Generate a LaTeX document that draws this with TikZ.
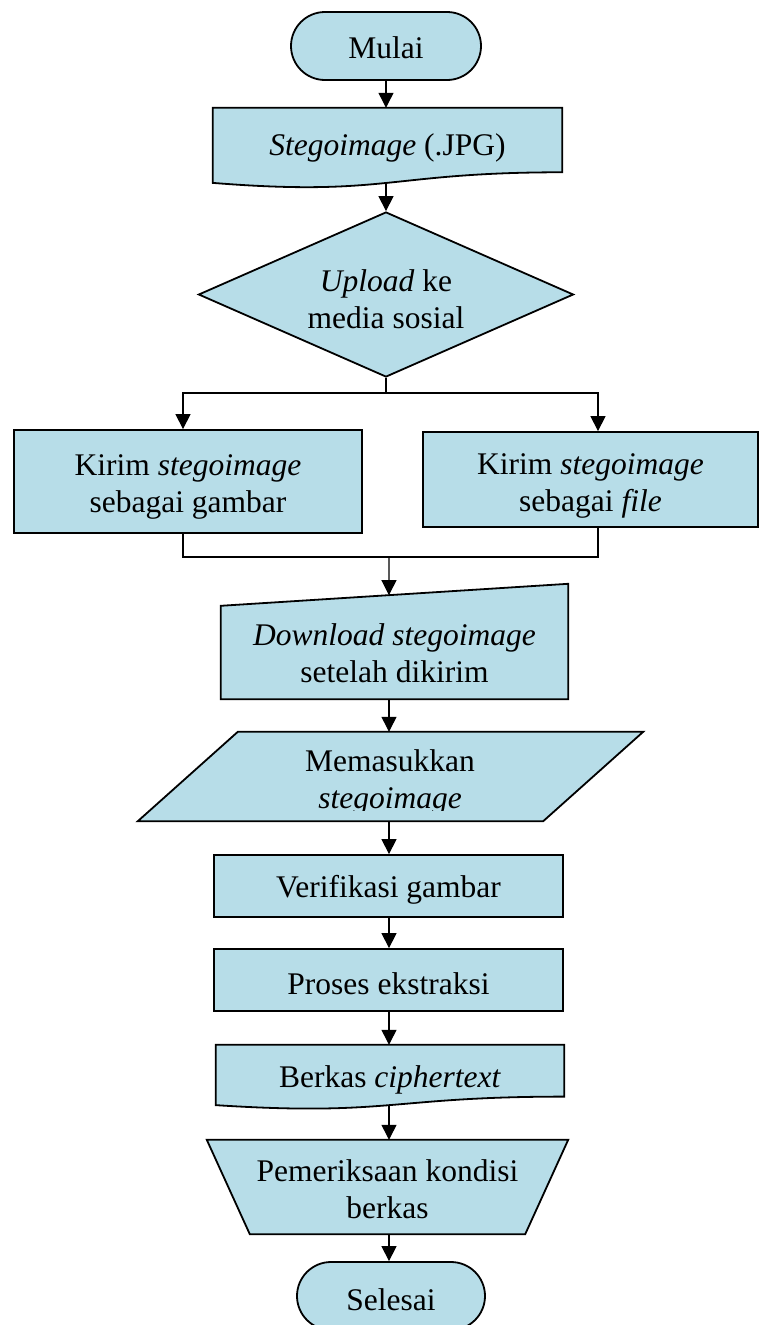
\documentclass[tikz,border=0pt]{standalone}
\usepackage{fontspec}
\setmainfont{Liberation Serif}
\usetikzlibrary{shapes.geometric,shapes.misc,arrows.meta,calc,backgrounds}
\definecolor{boxfill}{RGB}{183,221,232}

\tikzset{
  every node/.style={font=\fontsize{31.5}{37}\selectfont, align=center, inner sep=0pt},
  shp/.style={draw=black, line width=1.8pt, fill=boxfill},
  frame/.style={rectangle, draw=none},
  procbox/.style={shp, rectangle},
  termbox/.style={shp, rounded rectangle},
  decbox/.style={shp, diamond, aspect=2.27},
  conn/.style={line width=1.2pt},
  arr/.style={conn, -{Triangle[width=15pt,length=15pt]}}
}

% document symbol: flat top, wavy bottom, drawn around a frame node
\newcommand\docoutline[1]{%
  \draw[shp] (#1.north west) -- (#1.north east)
    -- ($(#1.north east)!0.802!(#1.south east)$)
    .. controls ($(#1.north)!0.802!(#1.south)$) and ($(#1.north)!1.1075!(#1.south)$)
    .. ($(#1.north west)!0.934!(#1.south west)$) -- cycle;}

\begin{document}
\begin{tikzpicture}[x=1pt,y=1pt]
\useasboundingbox (0,0) rectangle (760,-1325);

\coordinate (axis) at (389,0);

% nodes (text sits a little below the centre of each symbol)
\node[termbox, minimum width=190pt, minimum height=68pt,
      label={[yshift=-2pt]center:Mulai}] (mulai) at (386,-46) {};
\node[frame, minimum width=349pt, minimum height=80pt] (stego) at (387.5,-148) {\textit{Stegoimage} (.JPG)};
\node[decbox, minimum width=375pt, minimum height=165pt,
      label={[yshift=-5pt]center:{\textit{Upload} ke\\media sosial}}] (dec) at (386,-294.5) {};
\node[procbox, minimum width=348pt, minimum height=103pt,
      label={[yshift=-5pt]center:{Kirim \textit{stegoimage}\\sebagai gambar}}] (left) at (188,-481.5) {};
\node[procbox, minimum width=335pt, minimum height=95pt,
      label={[yshift=-6pt]center:{Kirim \textit{stegoimage}\\sebagai \textit{file}}}] (right) at (590.5,-479.5) {};
\node[frame, minimum width=347pt, minimum height=93pt,
      label={[yshift=-1pt]center:{\textit{Download stegoimage}\\setelah dikirim}}] (dl) at (394.5,-652.5) {};
\node[frame, minimum width=505pt, minimum height=89pt] (inp) at (390.5,-776.5) {};
\begin{scope}
  \clip ($(inp.south west)+(0,11)$) rectangle (inp.north east);
  \node (inptext) at (390,-782) {Memasukkan\\\textit{stegoimage}};
\end{scope}
\node[procbox, minimum width=349pt, minimum height=62pt,
      label={[yshift=-4pt]center:Verifikasi gambar}] (ver) at (388.5,-886) {};
\node[procbox, minimum width=349pt, minimum height=62pt,
      label={[yshift=-4pt]center:Proses ekstraksi}] (pro) at (388.5,-980) {};
\node[frame, minimum width=348pt, minimum height=64.2pt,
      label={[yshift=-3pt]center:{Berkas \textit{ciphertext}}}] (berkas) at (390,-1077.1) {};
\node[frame, minimum width=361pt, minimum height=94pt,
      label={[yshift=-2pt]center:{Pemeriksaan kondisi\\berkas}}] (man) at (387.5,-1187) {};
\node[termbox, minimum width=188pt, minimum height=68pt,
      label={[yshift=-4pt]center:Selesai}] (sel) at (391,-1296) {};

% outlines of the non-standard symbols
\begin{scope}[on background layer]
  \docoutline{stego}
  \docoutline{berkas}
  % manual input
  \draw[shp] (dl.south west) -- (dl.north west) -- ([yshift=22pt]dl.north east) -- (dl.south east) -- cycle;
  % data (parallelogram)
  \draw[shp] ([xshift=100pt]inp.north west) -- (inp.north east) -- ([xshift=-100pt]inp.south east) -- (inp.south west) -- cycle;
  % manual operation
  \draw[shp] (man.north west) -- (man.north east) -- ([xshift=-43pt]man.south east) -- ([xshift=43pt]man.south west) -- cycle;
\end{scope}

% helper points on the connectors
\coordinate (stegoout) at ($(stego.north)!0.933!(stego.south)$);
\coordinate (berkasout) at ($(berkas.north)!0.933!(berkas.south)$);
\coordinate (split) at ($(dec.south)+(0,-15)$);
\coordinate (merge) at (389,-557);
\coordinate (dlin) at ($(dl.north west)!0.484!([yshift=22pt]dl.north east)$);

% connectors
\draw[arr] (mulai.south) -- (mulai.south |- stego.north);
\draw[arr] (dec.north |- stegoout) -- (dec.north);
\draw[conn] (dec.south) -- (split);
\draw[arr] (split) -| ([xshift=-5pt]left.north);
\draw[arr] (split) -| ([xshift=7.5pt]right.north);
\draw[conn] ([xshift=-5pt]left.south) |- ([xshift=7.5pt]right.south |- merge) -- ([xshift=7.5pt]right.south);
\draw[arr] (merge) -- (dlin);
\draw[arr] (dl.south -| axis) -- (inp.north -| axis);
\draw[arr] (inp.south -| axis) -- (ver.north -| axis);
\draw[arr] (ver.south -| axis) -- (pro.north -| axis);
\draw[arr] (pro.south -| axis) -- (berkas.north -| axis);
\draw[arr] (berkasout -| axis) -- (man.north -| axis);
\draw[arr] (man.south -| axis) -- (sel.north -| axis);
\end{tikzpicture}
\end{document}
